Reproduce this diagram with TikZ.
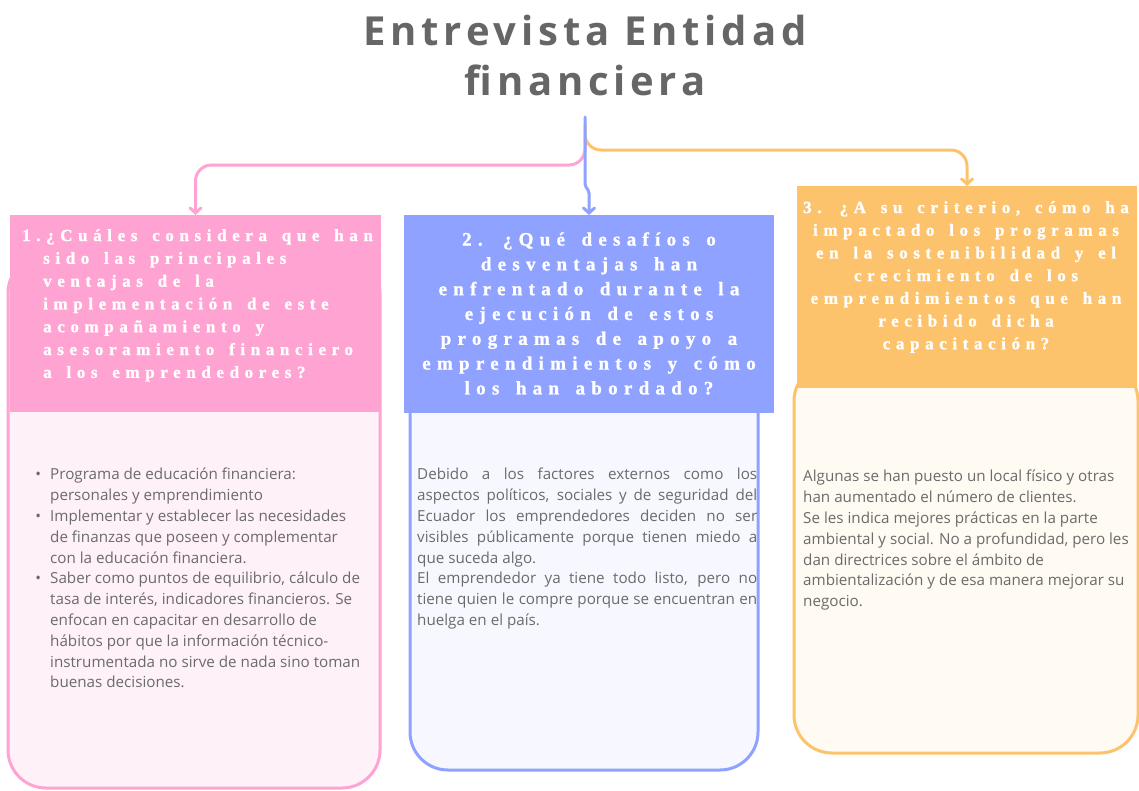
\documentclass[tikz,border=0pt]{standalone}
\usepackage{fontspec}
\usetikzlibrary{arrows.meta}
\setmainfont{Open Sans}
\newfontfamily\ttlfont{Open Sans}[LetterSpace=12]
\newfontfamily\hdfont{Liberation Serif}[LetterSpace=33,WordSpace=1.5,FakeBold=1.2]
\definecolor{pinkH}{HTML}{FFA4D2}
\definecolor{pinkL}{HTML}{FFF1F8}
\definecolor{blueH}{HTML}{8FA2FF}
\definecolor{blueL}{HTML}{F7F8FF}
\definecolor{orH}{HTML}{FDC36C}
\definecolor{orL}{HTML}{FFFAF2}
\definecolor{txt}{HTML}{6B6B6B}
\definecolor{ttl}{HTML}{666666}
\tikzset{
  bodybox/.style={draw, line width=3pt, rounded corners=38pt, inner sep=0pt, outer sep=0pt},
  headbox/.style={draw=none, inner sep=0pt, outer sep=0pt, anchor=north west},
  headtxt/.style={text=white, inner sep=0pt, anchor=north},
  bodytxt/.style={text=txt, inner sep=0pt, anchor=north west, align=left, font=\fontsize{15.2}{20.8}\selectfont},
  conn/.style={line width=3pt, line cap=round, rounded corners=16pt, -{Straight Barb[length=5pt,width=11pt,line cap=round]}},
}
\begin{document}
\begin{tikzpicture}[x=1pt,y=-1pt]
\useasboundingbox (0,0) rectangle (1139,790);
% title
\node[text=ttl, font=\ttlfont\bfseries\fontsize{40}{50}\selectfont, align=center, inner sep=0pt] (t) at (585,55) {Entrevista Entidad\\financiera};
\coordinate (root) at (585,117);
% bodies
\node[bodybox, draw=pinkH, fill=pinkL, minimum width=372pt, minimum height=533pt, anchor=south west] (b1) at (8,788) {};
\node[bodybox, draw=blueH, fill=blueL, minimum width=348pt, minimum height=515pt, anchor=south west] (b2) at (410,770) {};
\node[bodybox, draw=orH, fill=orL, minimum width=344pt, minimum height=390pt, anchor=south west] (b3) at (794,753) {};
% headers
\node[headbox, fill=pinkH, minimum width=371pt, minimum height=197pt] (h1) at (10,215) {};
\node[headbox, fill=blueH, minimum width=370pt, minimum height=198pt] (h2) at (404,215) {};
\node[headbox, fill=orH, minimum width=340pt, minimum height=202pt] (h3) at (797,186) {};
% header texts
\node[headtxt, anchor=north west, align=left, font=\hdfont\bfseries\fontsize{17}{22.8}\selectfont] (q1) at (22,229)
 {1.¿Cuáles considera que han\\
  \hspace*{21pt}sido las principales\\
  \hspace*{21pt}ventajas de la\\
  \hspace*{21pt}implementación de este\\
  \hspace*{21pt}acompañamiento y\\
  \hspace*{21pt}asesoramiento financiero\\
  \hspace*{21pt}a los emprendedores?};
\node[headtxt, align=center, font=\hdfont\bfseries\fontsize{19}{24.8}\selectfont] (q2) at (589,232)
 {2. ¿Qué desafíos o\\desventajas han\\enfrentado durante la\\ejecución de estos\\programas de apoyo a\\emprendimientos y cómo\\los han abordado?};
\node[headtxt, align=center, font=\hdfont\bfseries\fontsize{17}{22.7}\selectfont] (q3) at (966,201)
 {3. ¿A su criterio, cómo ha\\impactado los programas\\en la sostenibilidad y el\\crecimiento de los\\emprendimientos que han\\recibido dicha\\capacitación?};
% body texts
\node[bodytxt] (a1) at (50,468)
 {\llap{•\hspace{9pt}}Programa de educación financiera:\\
  personales y emprendimiento\\
  \llap{•\hspace{9pt}}Implementar y establecer las necesidades\\
  de finanzas que poseen y complementar\\
  con la educación financiera.\\
  \llap{•\hspace{9pt}}Saber como puntos de equilibrio, cálculo de\\
  tasa de interés, indicadores financieros. Se\\
  enfocan en capacitar en desarrollo de\\
  hábitos por que la información técnico-\\
  instrumentada no sirve de nada sino toman\\
  buenas decisiones.};
\node[bodytxt] (a2) at (417,468)
 {\makebox[340pt][s]{Debido a los factores externos como los}\\
  \makebox[340pt][s]{aspectos políticos, sociales y de seguridad del}\\
  \makebox[340pt][s]{Ecuador los emprendedores deciden no ser}\\
  \makebox[340pt][s]{visibles públicamente porque tienen miedo a}\\
  que suceda algo.\\
  \makebox[340pt][s]{El emprendedor ya tiene todo listo, pero no}\\
  \makebox[340pt][s]{tiene quien le compre porque se encuentran en}\\
  huelga en el país.};
\node[bodytxt] (a3) at (803,470)
 {Algunas se han puesto un local físico y otras\\
  han aumentado el número de clientes.\\
  Se les indica mejores prácticas en la parte\\
  ambiental y social. No a profundidad, pero les\\
  dan directrices sobre el ámbito de\\
  ambientalización y de esa manera mejorar su\\
  negocio.};
% connectors
\draw[conn, draw=pinkH] (root) ++(0,20) |- (h1.north |- 0,165) -- (h1.north);
\draw[conn, draw=orH] (root) ++(0,8) |- (h3.north |- 0,150) -- (h3.north);
\draw[conn, draw=blueH, rounded corners=2pt] (root) -- (585,186) -- (589,191) -- (h2.north);
\end{tikzpicture}
\end{document}
